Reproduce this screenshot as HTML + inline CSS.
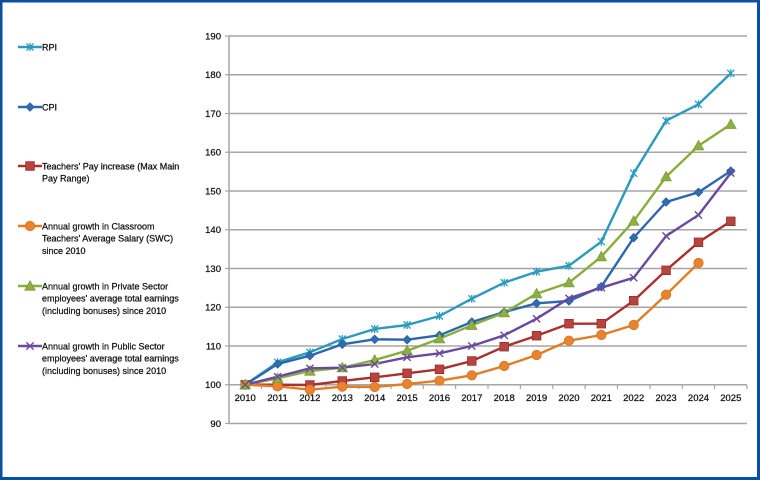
<!DOCTYPE html>
<html><head><meta charset="utf-8"><style>
html,body{margin:0;padding:0;background:#fff;}
svg{display:block;}
text{font-family:"Liberation Sans",Arial,sans-serif;fill:#111;stroke:#111;stroke-width:0.25;}
</style></head><body>
<svg width="760" height="480" viewBox="0 0 760 480" xmlns="http://www.w3.org/2000/svg">
<rect x="0" y="0" width="760" height="480" fill="#fff"/>
<defs>
 <g id="mStar"><path d="M-3.5,-3.5L3.5,3.5M-3.5,3.5L3.5,-3.5M0,-4L0,4" stroke="#2a9bbd" stroke-width="1.3" fill="none"/></g>
 <g id="mDia"><path d="M0,-4.2L4.2,0L0,4.2L-4.2,0Z" fill="#2f6cb1" stroke="#2a5f9e" stroke-width="0.8"/></g>
 <g id="mSq"><rect x="-4.3" y="-4.3" width="8.6" height="8.6" fill="#b84440" stroke="#9a2c2a" stroke-width="0.8"/></g>
 <g id="mCir"><circle r="4.7" fill="#e8842f" stroke="#d9731f" stroke-width="0.8"/></g>
 <g id="mTri"><path d="M0,-5.2L5.2,4.2L-5.2,4.2Z" fill="#8db043" stroke="#7a9c35" stroke-width="0.8"/></g>
 <g id="mX"><path d="M-3.6,-3.6L3.6,3.6M-3.6,3.6L3.6,-3.6" stroke="#6a4a9e" stroke-width="1.4" fill="none"/></g>
</defs>

<g stroke="#a6a6a6" stroke-width="1.5">
 <line x1="229" y1="36" x2="747" y2="36"/>
 <line x1="229" y1="74.75" x2="747" y2="74.75"/>
 <line x1="229" y1="113.5" x2="747" y2="113.5"/>
 <line x1="229" y1="152.25" x2="747" y2="152.25"/>
 <line x1="229" y1="191" x2="747" y2="191"/>
 <line x1="229" y1="229.75" x2="747" y2="229.75"/>
 <line x1="229" y1="268.5" x2="747" y2="268.5"/>
 <line x1="229" y1="307.25" x2="747" y2="307.25"/>
 <line x1="229" y1="346" x2="747" y2="346"/>
 <line x1="229" y1="384.75" x2="747" y2="384.75"/>
 <line x1="229" y1="423.5" x2="747" y2="423.5"/>
 <line x1="229" y1="36" x2="229" y2="423.5"/>
</g>
<g stroke="#a6a6a6" stroke-width="1.2">
 <line x1="225" y1="36" x2="229" y2="36"/><line x1="225" y1="74.75" x2="229" y2="74.75"/>
 <line x1="225" y1="113.5" x2="229" y2="113.5"/><line x1="225" y1="152.25" x2="229" y2="152.25"/>
 <line x1="225" y1="191" x2="229" y2="191"/><line x1="225" y1="229.75" x2="229" y2="229.75"/>
 <line x1="225" y1="268.5" x2="229" y2="268.5"/><line x1="225" y1="307.25" x2="229" y2="307.25"/>
 <line x1="225" y1="346" x2="229" y2="346"/><line x1="225" y1="384.75" x2="229" y2="384.75"/>
 <line x1="225" y1="423.5" x2="229" y2="423.5"/>
 <line x1="261.4" y1="385" x2="261.4" y2="389"/><line x1="293.8" y1="385" x2="293.8" y2="389"/>
 <line x1="326.1" y1="385" x2="326.1" y2="389"/><line x1="358.5" y1="385" x2="358.5" y2="389"/>
 <line x1="390.9" y1="385" x2="390.9" y2="389"/><line x1="423.3" y1="385" x2="423.3" y2="389"/>
 <line x1="455.6" y1="385" x2="455.6" y2="389"/><line x1="488" y1="385" x2="488" y2="389"/>
 <line x1="520.4" y1="385" x2="520.4" y2="389"/><line x1="552.8" y1="385" x2="552.8" y2="389"/>
 <line x1="585.1" y1="385" x2="585.1" y2="389"/><line x1="617.5" y1="385" x2="617.5" y2="389"/>
 <line x1="649.9" y1="385" x2="649.9" y2="389"/><line x1="682.3" y1="385" x2="682.3" y2="389"/>
 <line x1="714.6" y1="385" x2="714.6" y2="389"/><line x1="747" y1="385" x2="747" y2="389"/>
</g>

<g font-size="9.5" text-anchor="end">
 <text x="221" y="39.5">190</text><text x="221" y="78.2">180</text>
 <text x="221" y="117">170</text><text x="221" y="155.7">160</text>
 <text x="221" y="194.5">150</text><text x="221" y="233.2">140</text>
 <text x="221" y="272">130</text><text x="221" y="310.7">120</text>
 <text x="221" y="349.5">110</text><text x="221" y="388.2">100</text>
 <text x="221" y="427">90</text>
</g>
<g font-size="9.5" text-anchor="middle">
 <text x="245.2" y="401">2010</text><text x="277.6" y="401">2011</text>
 <text x="309.9" y="401">2012</text><text x="342.3" y="401">2013</text>
 <text x="374.7" y="401">2014</text><text x="407.1" y="401">2015</text>
 <text x="439.5" y="401">2016</text><text x="471.8" y="401">2017</text>
 <text x="504.2" y="401">2018</text><text x="536.6" y="401">2019</text>
 <text x="569" y="401">2020</text><text x="601.3" y="401">2021</text>
 <text x="633.7" y="401">2022</text><text x="666.1" y="401">2023</text>
 <text x="698.5" y="401">2024</text><text x="730.8" y="401">2025</text>
</g>

<g fill="none" stroke-width="2.4" stroke-linejoin="round">
 <polyline stroke="#2a9bbd" points="245.2,384.75 277.6,362.3 309.9,352.3 342.3,339 374.7,329 407.1,325 439.5,316 471.8,298.7 504.2,282.7 536.6,271.7 569,265.7 601.3,241.7 633.7,173.3 666.1,120.7 698.5,104.3 730.8,73.3"/>
 <polyline stroke="#2c68ad" points="245.2,384.75 277.6,364 309.9,355.7 342.3,344.3 374.7,339.3 407.1,339.7 439.5,335.3 471.8,322 504.2,312 536.6,303.3 569,301 601.3,286.7 633.7,237.7 666.1,202 698.5,192.3 730.8,171"/>
 <polyline stroke="#a8302d" points="245.2,384.75 277.6,384.7 309.9,385 342.3,381 374.7,377.3 407.1,373.3 439.5,369.3 471.8,361 504.2,346.7 536.6,335.7 569,323.7 601.3,323.7 633.7,300.7 666.1,270.3 698.5,242.3 730.8,221.3"/>
 <polyline stroke="#e47c26" points="245.2,384.75 277.6,386.3 309.9,389.7 342.3,386.7 374.7,387 407.1,384 439.5,380.7 471.8,375.3 504.2,366 536.6,355 569,340.7 601.3,335 633.7,325 666.1,294.7 698.5,263"/>
 <polyline stroke="#88ad3a" points="245.2,384.75 277.6,378.3 309.9,371 342.3,367.7 374.7,360 407.1,350.7 439.5,338.7 471.8,325.3 504.2,312.7 536.6,293.7 569,282.7 601.3,256.7 633.7,221 666.1,176.7 698.5,145.7 730.8,124.3"/>
 <polyline stroke="#6a4a9e" points="245.2,384.75 277.6,376.7 309.9,368.3 342.3,367.7 374.7,364 407.1,357.3 439.5,353.3 471.8,346 504.2,335.3 536.6,318.7 569,298.3 601.3,287.7 633.7,277.7 666.1,236 698.5,215 730.8,173"/>
</g>
<g>
 <use href="#mStar" x="245.2" y="384.75"/><use href="#mStar" x="277.6" y="362.3"/><use href="#mStar" x="309.9" y="352.3"/><use href="#mStar" x="342.3" y="339"/><use href="#mStar" x="374.7" y="329"/><use href="#mStar" x="407.1" y="325"/><use href="#mStar" x="439.5" y="316"/><use href="#mStar" x="471.8" y="298.7"/><use href="#mStar" x="504.2" y="282.7"/><use href="#mStar" x="536.6" y="271.7"/><use href="#mStar" x="569" y="265.7"/><use href="#mStar" x="601.3" y="241.7"/><use href="#mStar" x="633.7" y="173.3"/><use href="#mStar" x="666.1" y="120.7"/><use href="#mStar" x="698.5" y="104.3"/><use href="#mStar" x="730.8" y="73.3"/>
 <use href="#mDia" x="245.2" y="384.75"/><use href="#mDia" x="277.6" y="364"/><use href="#mDia" x="309.9" y="355.7"/><use href="#mDia" x="342.3" y="344.3"/><use href="#mDia" x="374.7" y="339.3"/><use href="#mDia" x="407.1" y="339.7"/><use href="#mDia" x="439.5" y="335.3"/><use href="#mDia" x="471.8" y="322"/><use href="#mDia" x="504.2" y="312"/><use href="#mDia" x="536.6" y="303.3"/><use href="#mDia" x="569" y="301"/><use href="#mDia" x="601.3" y="286.7"/><use href="#mDia" x="633.7" y="237.7"/><use href="#mDia" x="666.1" y="202"/><use href="#mDia" x="698.5" y="192.3"/><use href="#mDia" x="730.8" y="171"/>
 <use href="#mSq" x="245.2" y="384.75"/><use href="#mSq" x="277.6" y="384.7"/><use href="#mSq" x="309.9" y="385"/><use href="#mSq" x="342.3" y="381"/><use href="#mSq" x="374.7" y="377.3"/><use href="#mSq" x="407.1" y="373.3"/><use href="#mSq" x="439.5" y="369.3"/><use href="#mSq" x="471.8" y="361"/><use href="#mSq" x="504.2" y="346.7"/><use href="#mSq" x="536.6" y="335.7"/><use href="#mSq" x="569" y="323.7"/><use href="#mSq" x="601.3" y="323.7"/><use href="#mSq" x="633.7" y="300.7"/><use href="#mSq" x="666.1" y="270.3"/><use href="#mSq" x="698.5" y="242.3"/><use href="#mSq" x="730.8" y="221.3"/>
 <use href="#mCir" x="245.2" y="384.75"/><use href="#mCir" x="277.6" y="386.3"/><use href="#mCir" x="309.9" y="389.7"/><use href="#mCir" x="342.3" y="386.7"/><use href="#mCir" x="374.7" y="387"/><use href="#mCir" x="407.1" y="384"/><use href="#mCir" x="439.5" y="380.7"/><use href="#mCir" x="471.8" y="375.3"/><use href="#mCir" x="504.2" y="366"/><use href="#mCir" x="536.6" y="355"/><use href="#mCir" x="569" y="340.7"/><use href="#mCir" x="601.3" y="335"/><use href="#mCir" x="633.7" y="325"/><use href="#mCir" x="666.1" y="294.7"/><use href="#mCir" x="698.5" y="263"/>
 <use href="#mTri" x="245.2" y="384.75"/><use href="#mTri" x="277.6" y="378.3"/><use href="#mTri" x="309.9" y="371"/><use href="#mTri" x="342.3" y="367.7"/><use href="#mTri" x="374.7" y="360"/><use href="#mTri" x="407.1" y="350.7"/><use href="#mTri" x="439.5" y="338.7"/><use href="#mTri" x="471.8" y="325.3"/><use href="#mTri" x="504.2" y="312.7"/><use href="#mTri" x="536.6" y="293.7"/><use href="#mTri" x="569" y="282.7"/><use href="#mTri" x="601.3" y="256.7"/><use href="#mTri" x="633.7" y="221"/><use href="#mTri" x="666.1" y="176.7"/><use href="#mTri" x="698.5" y="145.7"/><use href="#mTri" x="730.8" y="124.3"/>
 <use href="#mX" x="245.2" y="384.75"/><use href="#mX" x="277.6" y="376.7"/><use href="#mX" x="309.9" y="368.3"/><use href="#mX" x="342.3" y="367.7"/><use href="#mX" x="374.7" y="364"/><use href="#mX" x="407.1" y="357.3"/><use href="#mX" x="439.5" y="353.3"/><use href="#mX" x="471.8" y="346"/><use href="#mX" x="504.2" y="335.3"/><use href="#mX" x="536.6" y="318.7"/><use href="#mX" x="569" y="298.3"/><use href="#mX" x="601.3" y="287.7"/><use href="#mX" x="633.7" y="277.7"/><use href="#mX" x="666.1" y="236"/><use href="#mX" x="698.5" y="215"/><use href="#mX" x="730.8" y="173"/>
</g>

<g stroke-width="2.4">
 <line x1="18" y1="47" x2="42" y2="47" stroke="#2a9bbd"/>
 <line x1="18" y1="107" x2="42" y2="107" stroke="#2c68ad"/>
 <line x1="18" y1="166" x2="42" y2="166" stroke="#a8302d"/>
 <line x1="18" y1="226" x2="42" y2="226" stroke="#e47c26"/>
 <line x1="18" y1="286" x2="42" y2="286" stroke="#88ad3a"/>
 <line x1="18" y1="346" x2="42" y2="346" stroke="#6a4a9e"/>
</g>
<use href="#mStar" x="30" y="47"/>
<use href="#mDia" x="30" y="107"/>
<use href="#mSq" x="30" y="166"/>
<use href="#mCir" x="30" y="226"/>
<use href="#mTri" x="30" y="286"/>
<use href="#mX" x="30" y="346"/>
<g font-size="9">
 <text x="42" y="50.3">RPI</text>
 <text x="42" y="110.3">CPI</text>
 <text x="42" y="169.3">Teachers' Pay increase (Max Main</text>
 <text x="42" y="181.6">Pay Range)</text>
 <text x="42" y="229.3">Annual growth in Classroom</text>
 <text x="42" y="241.6">Teachers' Average Salary (SWC)</text>
 <text x="42" y="253.9">since 2010</text>
 <text x="42" y="289.3">Annual growth in Private Sector</text>
 <text x="42" y="301.6">employees' average total earnings</text>
 <text x="42" y="313.9">(including bonuses) since 2010</text>
 <text x="42" y="349.3">Annual growth in Public Sector</text>
 <text x="42" y="361.6">employees' average total earnings</text>
 <text x="42" y="373.9">(including bonuses) since 2010</text>
</g>

<g fill="#0b4f9f">
 <rect x="0" y="0" width="760" height="2.5"/>
 <rect x="0" y="0" width="2.5" height="480"/>
 <rect x="757" y="0" width="3" height="480"/>
 <rect x="0" y="477" width="760" height="3"/>
</g>
</svg>
</body></html>
